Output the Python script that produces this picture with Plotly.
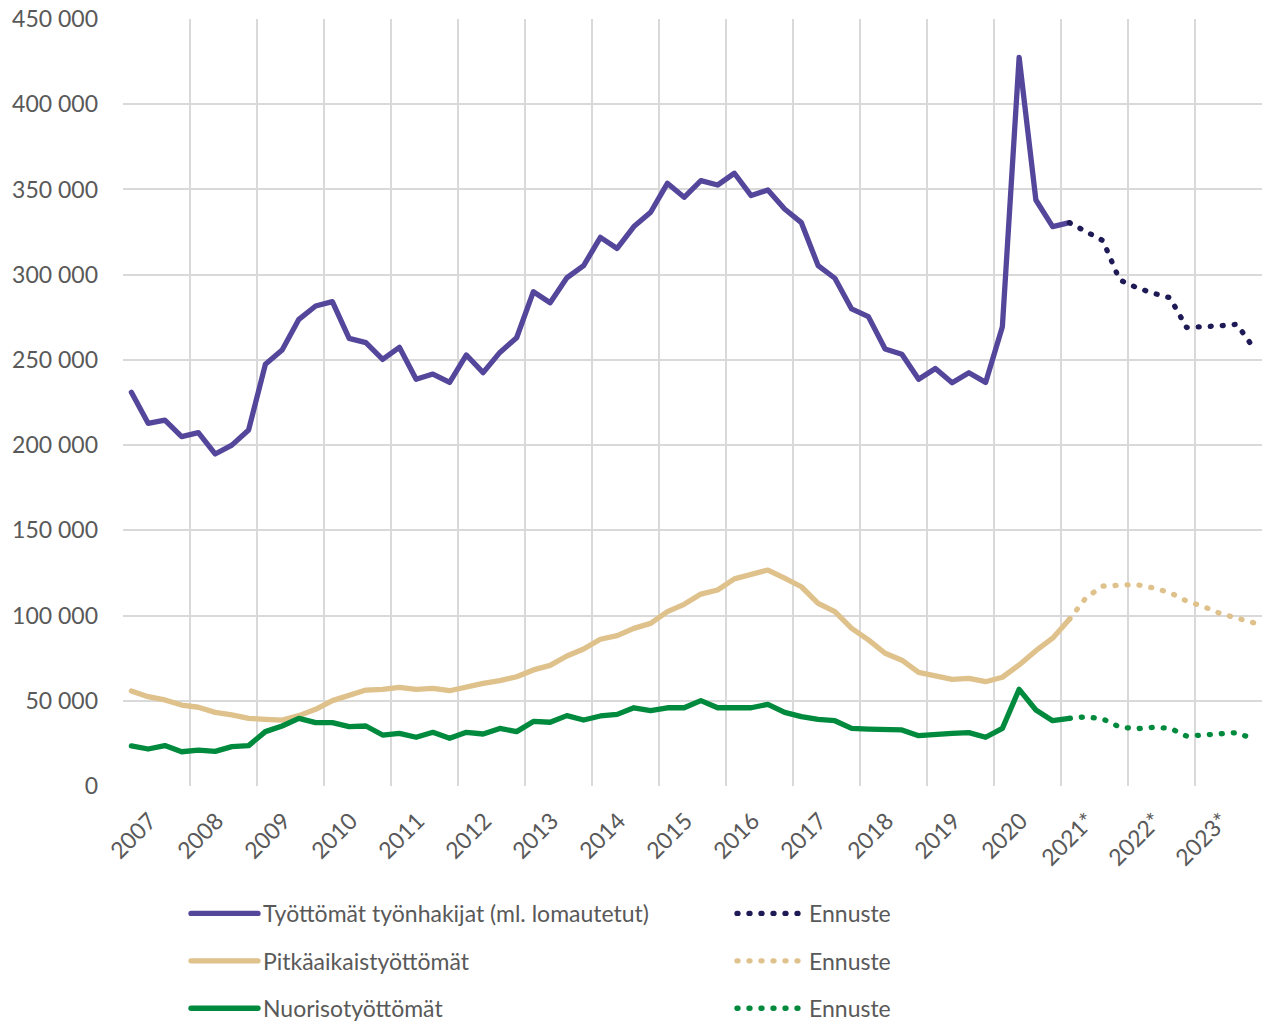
import plotly.graph_objects as go

# Quarterly data, 2007 Q1 ... 2021 Q1 (actual), forecasts 2021 Q1 ... 2023 Q4
years = list(range(2007, 2024))
year_labels = [str(y) for y in range(2007, 2021)] + ["2021*", "2022*", "2023*"]

tyottomat = [231.0, 212.8, 214.7, 205.0, 207.3, 194.8, 200.0, 208.9,
             247.4, 255.8, 273.8, 281.6, 284.2, 262.6, 260.1, 250.3,
             257.4, 238.6, 241.7, 236.8, 252.9, 242.5, 254.4, 263.0,
             290.0, 283.5, 298.2, 305.3, 321.9, 315.4, 328.2, 336.6,
             353.6, 345.4, 355.2, 352.6, 359.5, 346.4, 349.7, 338.5,
             330.5, 305.3, 297.9, 279.9, 275.4, 256.4, 253.3, 238.6,
             245.0, 236.6, 242.5, 236.8, 269.5, 427.5, 343.8, 328.2,
             330.5]
tyottomat_ennuste = [330.5, 325.3, 320.0, 296.9, 292.5, 289.1, 286.5, 269.0,
                     269.3, 270.0, 270.9, 257.0]

pitkaaikais = [55.7, 52.4, 50.5, 47.5, 46.2, 43.2, 41.7, 39.7,
               39.1, 38.7, 41.3, 45.0, 50.1, 52.8, 56.3, 56.7,
               57.9, 56.7, 57.3, 55.9, 58.3, 60.2, 61.8, 64.1,
               68.1, 70.8, 76.3, 80.4, 86.1, 88.2, 92.5, 95.4,
               102.3, 106.6, 112.6, 115.0, 121.5, 124.2, 126.7, 121.9,
               116.9, 107.2, 102.3, 92.5, 85.7, 77.9, 73.8, 66.7,
               64.6, 62.6, 63.2, 61.2, 63.8, 71.0, 79.4, 86.7,
               97.8]
pitkaaikais_ennuste = [97.8, 110.6, 117.3, 117.9, 118.2, 116.2, 113.5, 108.5,
                       105.3, 101.2, 98.3, 95.8]

nuoriso = [23.5, 21.7, 23.7, 20.1, 21.1, 20.3, 23.1, 23.7,
           31.9, 35.2, 39.7, 37.2, 37.2, 34.8, 35.2, 29.9,
           30.9, 28.6, 31.5, 28.0, 31.5, 30.5, 33.8, 31.9,
           37.9, 37.4, 41.3, 38.7, 41.1, 42.0, 45.9, 44.2,
           45.9, 45.9, 50.1, 45.9, 45.9, 45.9, 47.9, 43.2,
           40.7, 39.1, 38.3, 33.8, 33.4, 32.9, 32.9, 29.5,
           30.5, 30.9, 31.3, 28.6, 33.8, 56.7, 44.6, 38.3,
           39.7]
nuoriso_ennuste = [39.7, 40.6, 39.3, 34.6, 33.6, 34.4, 34.0, 29.3,
                   29.9, 30.9, 31.3, 27.5]

n_quarters = len(years) * 4
x_hist = list(range(len(tyottomat)))
x_fore = list(range(len(tyottomat) - 1, n_quarters))

def k(v):
    return [round(a * 1000) for a in v]

PURPLE = "#54479b"
NAVY = "#1e1a56"
TAN = "#dfc18c"
GREEN = "#008a3d"
TXT = "#595959"
GRID = "#d9d9d9"
FONT = "Lato, 'Open Sans', sans-serif"
DOT = "1px,11px"
LW = 5.3

fig = go.Figure()
fig.add_trace(go.Scatter(x=x_hist, y=k(tyottomat), mode="lines",
                         name="Työttömät työnhakijat (ml. lomautetut)",
                         line=dict(color=PURPLE, width=LW), legend="legend", legendgroup="a"))
fig.add_trace(go.Scatter(x=x_hist, y=k(pitkaaikais), mode="lines",
                         name="Pitkäaikaistyöttömät",
                         line=dict(color=TAN, width=LW), legend="legend", legendgroup="b"))
fig.add_trace(go.Scatter(x=x_hist, y=k(nuoriso), mode="lines",
                         name="Nuorisotyöttömät",
                         line=dict(color=GREEN, width=LW), legend="legend", legendgroup="c"))
fig.add_trace(go.Scatter(x=x_fore, y=k(tyottomat_ennuste), mode="lines", name="Ennuste",
                         line=dict(color=NAVY, width=LW, dash=DOT), legend="legend2", legendgroup="d"))
fig.add_trace(go.Scatter(x=x_fore, y=k(pitkaaikais_ennuste), mode="lines", name="Ennuste",
                         line=dict(color=TAN, width=LW, dash=DOT), legend="legend2", legendgroup="e"))
fig.add_trace(go.Scatter(x=x_fore, y=k(nuoriso_ennuste), mode="lines", name="Ennuste",
                         line=dict(color=GREEN, width=LW, dash=DOT), legend="legend2", legendgroup="f"))

tickvals = [4 * i + 1.1 for i in range(len(years))]
grid_x = [4 * i - 0.5 for i in range(len(years))]

legend_common = dict(orientation="v", yanchor="top", xanchor="left",
                     font=dict(family=FONT, size=23, color=TXT),
                     bgcolor="rgba(0,0,0,0)", tracegroupgap=14.5, itemwidth=67)

fig.update_layout(
    width=1264, height=1021,
    margin=dict(l=123, r=2, t=19, b=235, autoexpand=False),
    paper_bgcolor="white", plot_bgcolor="white",
    separators=", ",
    font=dict(family=FONT, size=23, color=TXT),
    xaxis=dict(range=[-0.5, n_quarters - 0.5], tickmode="array", tickvals=tickvals,
               ticktext=year_labels, tickangle=-45, showgrid=False, zeroline=False,
               showline=False, ticks="", ticklabelstandoff=16,
               tickfont=dict(family=FONT, size=23, color=TXT),
               minor=dict(tickmode="array", tickvals=grid_x, showgrid=True,
                          gridcolor=GRID, gridwidth=2, ticks="")),
    yaxis=dict(range=[0, 450000], dtick=50000, tick0=0, tickformat=",d",
               showgrid=True, gridcolor=GRID, gridwidth=2, zeroline=False,
               showline=False, ticks="", ticklabelstandoff=24,
               tickfont=dict(family=FONT, size=23, color=TXT)),
    legend=dict(x=(186 - 123) / 1139, y=-(892 - 786) / 767, **legend_common),
    legend2=dict(x=(732 - 123) / 1139, y=-(892 - 786) / 767, **legend_common),
    showlegend=True,
)

post = ("document.body.style.margin='0';document.body.style.padding='0';"
        "var g=document.getElementsByClassName('plotly-graph-div')[0];"
        "g.querySelectorAll('path.js-line').forEach(function(p){"
        "p.style.strokeLinecap='round';p.style.strokeLinejoin='round';});")

fig.write_html("out.html", post_script=post, config={"displayModeBar": False})
